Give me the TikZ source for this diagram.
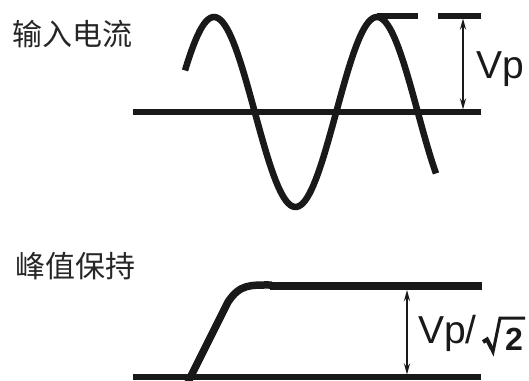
\documentclass[tikz,border=0pt]{standalone}
\usepackage{fontspec}
\setmainfont{Liberation Sans}
\newfontfamily\cjk{Noto Sans CJK SC}
\usetikzlibrary{arrows.meta,positioning}

\begin{document}
\begin{tikzpicture}[
        x=1pt,
        y=-1pt,
        axis/.style={line width=5.5pt, black!90},
        wave/.style={line width=6.5pt, black!90},
        hold/.style={line width=8.5pt, black!90},
        ramp/.style={line width=7.5pt, black!90},
        span/.style={{Stealth[length=11pt,width=6pt]}-{Stealth[length=11pt,width=6pt]}, line width=2.8pt, black!90},
        title/.style={anchor=west, inner sep=0pt, font=\cjk\fontsize{30}{30}\selectfont, black!85},
        level/.style={anchor=base west, inner sep=0pt, font=\fontsize{39}{39}\selectfont, black!90},
        radical/.style={line width=3pt, black!90, line join=miter},
        radicand/.style={anchor=base, inner sep=0pt, font=\bfseries\fontsize{32}{32}\selectfont, black!90}
    ]
        \useasboundingbox (0,0) rectangle (529,380);

        % Input current: sine wave over its axis.
        \node[title] (intitle) at (12,34) {输入电流};
        \draw[axis] (133,112) -- (481,112);
        \draw[wave] plot[domain=185:436, samples=120] (\x, {112 - 95*cos(2.2086*(\x-214))});
        \draw[axis] (377,16) -- (418,16);
        \draw[axis] (438,16) -- (481,16);
        \coordinate (vptop) at (463,18.5);
        \coordinate (vpbot) at (463,109.5);
        \draw[span] (vptop) -- (vpbot);
        \node[level] (vp) at (476,78) {Vp};

        % Peak hold: ramp up to the held level.
        \node[title] (holdtitle) at (15,266) {峰值保持};
        \draw[axis] (133,377) -- (481,377);
        \draw[ramp] (188,382) -- (228,302) .. controls (240,284) and (250,285) .. (272,285);
        \draw[hold] (270,286) -- (482,286);
        \coordinate (holdtop) at (407,290);
        \coordinate (holdbot) at (407,374.5);
        \draw[span] (holdtop) -- (holdbot);
        \node[level] (vphold) at (418,343) {Vp/};
        \node[radicand] (two) at (514,350) {2};
        \draw[radical, line width=4pt] (483,342) -- (487,339.5) -- (492,349);
        \draw[radical] (487,339.5) -- (493,352) -- (500,318) -- (525,318);
    \end{tikzpicture}
\end{document}
